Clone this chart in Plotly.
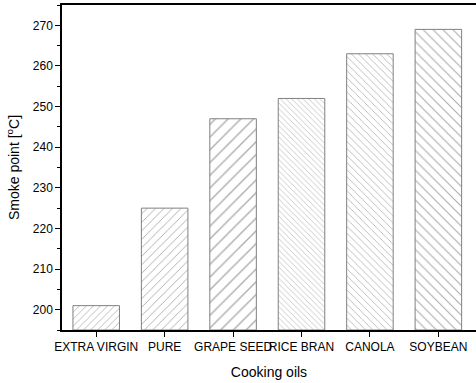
import plotly.graph_objects as go

categories = ["EXTRA VIRGIN", "PURE", "GRAPE SEED", "RICE BRAN", "CANOLA", "SOYBEAN"]
smoke_points = [201, 225, 247, 252, 263, 269]
hatch_shapes = ["/", "/", "/", "\\", "\\", "\\"]
hatch_sizes = [5, 6, 9, 4, 5, 7]
y_ticks = [200, 210, 220, 230, 240, 250, 260, 270]
y_base = 195

fig = go.Figure()
fig.add_trace(go.Bar(
    x=list(range(len(categories))),
    y=[v - y_base for v in smoke_points],
    base=y_base,
    width=0.68,
    marker=dict(
        color="white",
        line=dict(color="#808080", width=1),
        pattern=dict(shape=hatch_shapes, size=hatch_sizes, solidity=0.15,
                     fgcolor="#555555", bgcolor="white"),
    ),
))

fig.update_layout(
    width=476, height=383,
    margin=dict(l=62, r=0, t=5, b=53),
    plot_bgcolor="white", paper_bgcolor="white",
    showlegend=False,
    font=dict(family="Liberation Sans, Arial, sans-serif", color="black", size=12),
)
fig.update_xaxes(
    range=[-0.5, 5.55],
    tickvals=list(range(len(categories))), ticktext=categories,
    tickangle=0,
    showline=True, linecolor="black", linewidth=1.5, mirror=True,
    ticks="outside", ticklen=5, tickcolor="black", tickwidth=1,
    showgrid=False, zeroline=False,
    tickfont=dict(size=12),
    title=dict(text="Cooking oils", font=dict(size=14), standoff=14),
)
fig.update_yaxes(
    range=[195, 275],
    tickvals=y_ticks,
    showline=True, linecolor="black", linewidth=1.5,
    ticks="outside", ticklen=5, tickcolor="black", tickwidth=1,
    minor=dict(dtick=5, tick0=195, ticks="outside", ticklen=3, tickcolor="black"),
    showgrid=False, zeroline=False,
    tickfont=dict(size=12),
    title=dict(text="Smoke point [<sup>o</sup>C]", font=dict(size=14), standoff=10),
)
fig.write_html("out.html")
